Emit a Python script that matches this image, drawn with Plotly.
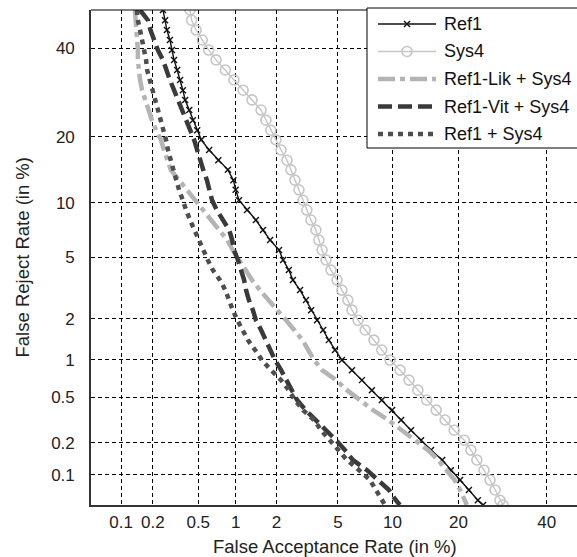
from statistics import NormalDist
import plotly.graph_objects as go

# False reject rate operating points (%), shared by every curve
frr = [50, 47.3, 44.7, 42.1, 39.5, 37.0, 34.5, 32.1, 29.7, 27.5,
       25.3, 23.2, 21.2, 19.4, 17.6, 15.9, 14.4, 12.9, 11.6, 10.3,
       9.18, 8.13, 7.18, 6.31, 5.53, 4.83, 4.19, 3.63, 3.13, 2.69,
       2.30, 1.96, 1.67, 1.41, 1.19, 0.998, 0.833, 0.694, 0.575, 0.476,
       0.391, 0.321, 0.261, 0.212, 0.172, 0.139, 0.111, 0.089, 0.071, 0.056,
       0.050]

# False acceptance rates (%) for each system at those points
far_ref1 = [0.247, 0.258, 0.268, 0.285, 0.297, 0.31, 0.33, 0.35, 0.37, 0.387,
            0.42, 0.45, 0.49, 0.53, 0.615, 0.73, 0.87, 0.96, 1.0, 1.06,
            1.22, 1.42, 1.60, 1.80, 2.08, 2.22, 2.43, 2.59, 2.89, 3.16,
            3.41, 3.72, 4.06, 4.4, 4.8, 5.28, 6.04, 6.88, 7.8, 8.82,
            9.96, 11.05, 12.34, 13.76, 15.28, 17.1, 18.6, 20.3, 22.0, 23.8,
            24.9]
far_sys4 = [0.426, 0.44, 0.48, 0.54, 0.61, 0.70, 0.83, 0.97, 1.14, 1.33,
            1.55, 1.68, 1.82, 1.98, 2.15, 2.36, 2.51, 2.67, 2.84, 3.02,
            3.20, 3.40, 3.66, 3.82, 4.0, 4.23, 4.54, 4.94, 5.28, 5.72,
            6.04, 6.54, 7.17, 8.0, 8.8, 9.72, 10.92, 12.07, 13.3, 14.6,
            16.1, 17.6, 19.2, 21.1, 22.4, 23.6, 25.1, 26.4, 27.5, 28.6,
            29.3]
far_lik = [0.136, 0.139, 0.139, 0.142, 0.145, 0.145, 0.148, 0.152, 0.159, 0.169,
           0.184, 0.196, 0.214, 0.237, 0.252, 0.269, 0.29, 0.343, 0.40, 0.47,
           0.55, 0.638, 0.753, 0.86, 0.95, 1.06, 1.18, 1.33, 1.52, 1.74,
           2.02, 2.33, 2.67, 3.0, 3.27, 3.56, 4.0, 4.87, 5.65, 6.63,
           7.92, 9.5, 11.18, 13.0, 14.8, 16.4, 17.9, 19.3, 20.3, 21.25,
           21.6]
far_vit = [0.152, 0.18, 0.19, 0.205, 0.222, 0.247, 0.264, 0.285, 0.31, 0.336,
           0.365, 0.395, 0.426, 0.462, 0.49, 0.517, 0.55, 0.59, 0.615, 0.65,
           0.71, 0.79, 0.89, 0.94, 0.97, 1.04, 1.10, 1.16, 1.20, 1.26,
           1.35, 1.42, 1.55, 1.68, 1.80, 1.95, 2.15, 2.33, 2.51, 2.76,
           3.14, 3.66, 4.23, 4.87, 5.5, 6.1, 7.34, 8.4, 9.6, 10.4,
           10.9]
far_comb = [0.142, 0.145, 0.152, 0.159, 0.165, 0.173, 0.177, 0.188, 0.20, 0.21,
            0.222, 0.237, 0.252, 0.263, 0.274, 0.29, 0.30, 0.324, 0.343, 0.365,
            0.395, 0.426, 0.462, 0.505, 0.55, 0.60, 0.66, 0.753, 0.83, 0.885,
            0.95, 1.03, 1.12, 1.24, 1.40, 1.57, 1.83, 2.15, 2.43, 2.67,
            3.02, 3.56, 3.94, 4.48, 5.0, 5.65, 6.63, 7.62, 8.2, 8.8,
            9.15]

series_names = ["Ref1", "Sys4", "Ref1-Lik + Sys4", "Ref1-Vit + Sys4", "Ref1 + Sys4"]

tick_vals = [0.1, 0.2, 0.5, 1, 2, 5, 10, 20, 40]
tick_text = ["0.1", "0.2", "0.5", "1", "2", "5", "10", "20", "40"]

FONT = "Liberation Sans, Arial, sans-serif"
nd = NormalDist()


def probit(pct):
    """Normal deviate of a percentage, the DET-plot scale."""
    return nd.inv_cdf(pct / 100.0)


W, H = 577, 557
ML, MR, MT, MB = 91, 0, 10, 52
PW, PH = W - ML - MR, H - MT - MB


def px(x):
    return (x - ML) / PW


def py(y):
    return (H - MB - y) / PH


styles = [
    dict(mode="lines+markers", line=dict(color="#111111", width=1.4),
         marker=dict(symbol="x-thin", size=6, line=dict(color="#111111", width=1.4))),
    dict(mode="lines+markers", line=dict(color="#c6c6c6", width=1.4),
         marker=dict(symbol="circle-open", size=10, color="#c6c6c6", line=dict(width=1.6))),
    dict(mode="lines", line=dict(color="#b4b4b4", width=4.5, dash="17px,5px,5px,5px")),
    dict(mode="lines", line=dict(color="#3a3a3a", width=4.5, dash="14px,6px")),
    dict(mode="lines", line=dict(color="#4e4e4e", width=4.5, dash="5px,5px")),
]
far_sets = [far_ref1, far_sys4, far_lik, far_vit, far_comb]

fig = go.Figure()
for name, far, st in zip(series_names, far_sets, styles):
    fig.add_trace(go.Scatter(
        x=[probit(v) for v in far],
        y=[probit(v) for v in frr],
        name=name, showlegend=False, hoverinfo="skip", **st))

x_lo = probit(0.05)
x_hi = x_lo + PW / 150.06
y_lo, y_hi = probit(0.05), probit(50)

axis_common = dict(
    tickvals=[probit(v) for v in tick_vals], ticktext=tick_text,
    showgrid=True, gridcolor="#000000", gridwidth=1, griddash="4px,3px",
    zeroline=False, showline=True, linecolor="#333333", linewidth=1.6,
    ticks="", tickfont=dict(family=FONT, size=17, color="#222222"),
)
fig.update_xaxes(range=[x_lo, x_hi], ticklabelstandoff=1, **axis_common)
fig.update_yaxes(range=[y_lo, y_hi], ticklabelstandoff=11, **axis_common)

shapes = [dict(type="line", xref="paper", yref="paper", x0=0, x1=1, y0=1, y1=1,
               line=dict(color="#000000", width=1))]
annotations = [
    dict(text="False Acceptance Rate (in %)", xref="paper", yref="paper",
         x=px(335), y=py(546), showarrow=False, xanchor="center", yanchor="middle",
         font=dict(family=FONT, size=18.5, color="#222222")),
    dict(text="False Reject Rate (in %)", xref="paper", yref="paper",
         x=px(22), y=0.5, showarrow=False, textangle=-90, xanchor="center",
         yanchor="middle", font=dict(family=FONT, size=18.5, color="#222222")),
]

# legend box, drawn by hand
shapes.append(dict(type="rect", xref="paper", yref="paper",
                   x0=px(367), x1=px(640), y0=py(148), y1=py(8),
                   fillcolor="#ffffff", line=dict(color="#000000", width=1)))
rows = [24, 51.5, 79, 106.5, 134]
sx0, sx1, smid = 378, 436, 407
for i, (name, st) in enumerate(zip(series_names, styles)):
    yy = py(rows[i])
    ln = st["line"]
    shapes.append(dict(type="line", xref="paper", yref="paper",
                       x0=px(sx0), x1=px(sx1), y0=yy, y1=yy,
                       line=dict(color=ln["color"], width=ln["width"],
                                 dash=ln.get("dash", "solid"))))
    annotations.append(dict(text=name, xref="paper", yref="paper", x=px(442), y=yy,
                            xanchor="left", yanchor="middle", showarrow=False,
                            font=dict(family=FONT, size=18, color="#111111")))
# legend marker glyphs
r = 3
yy = rows[0]
for d in (1, -1):
    shapes.append(dict(type="line", xref="paper", yref="paper",
                       x0=px(smid - r), x1=px(smid + r), y0=py(yy - d * r), y1=py(yy + d * r),
                       line=dict(color="#111111", width=1.4)))
yy = rows[1]
shapes.append(dict(type="circle", xref="paper", yref="paper",
                   x0=px(smid - 5), x1=px(smid + 5), y0=py(yy + 5), y1=py(yy - 5),
                   fillcolor="rgba(0,0,0,0)", line=dict(color="#c6c6c6", width=1.6)))

fig.update_layout(
    width=W, height=H, margin=dict(l=ML, r=MR, t=MT, b=MB),
    paper_bgcolor="#ffffff", plot_bgcolor="#ffffff",
    shapes=shapes, annotations=annotations, showlegend=False,
)

fig.write_html("out.html")
